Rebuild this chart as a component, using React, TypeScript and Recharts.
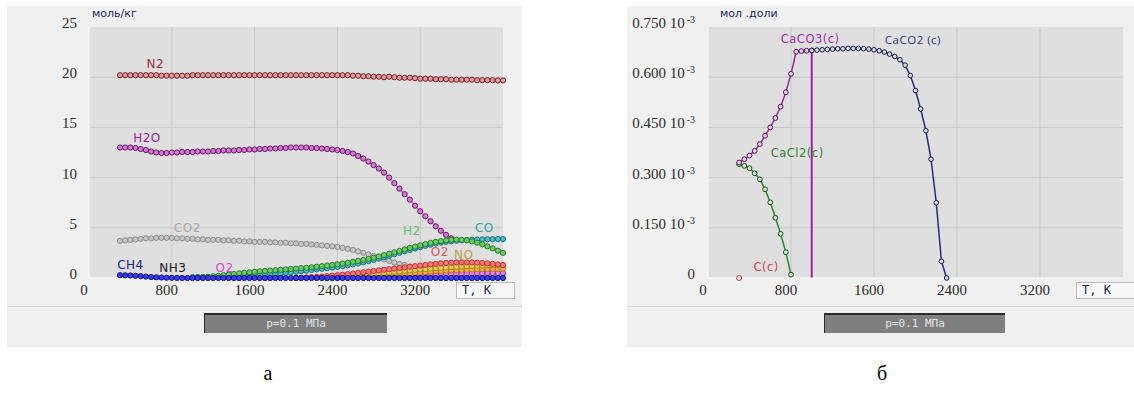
import React from 'react';
import {
  LineChart,
  Line,
  XAxis,
  YAxis,
  CartesianGrid,
  ReferenceDot,
  ReferenceLine
} from 'recharts';

// ---- chart (а): composition, моль/кг, T step 50 K ----
const T_LEFT = [
  300, 350, 400, 450, 500, 550, 600, 650, 700, 750,
  800, 850, 900, 950, 1000, 1050, 1100, 1150, 1200, 1250,
  1300, 1350, 1400, 1450, 1500, 1550, 1600, 1650, 1700, 1750,
  1800, 1850, 1900, 1950, 2000, 2050, 2100, 2150, 2200, 2250,
  2300, 2350, 2400, 2450, 2500, 2550, 2600, 2650, 2700, 2750,
  2800, 2850, 2900, 2950, 3000, 3050, 3100, 3150, 3200, 3250,
  3300, 3350, 3400, 3450, 3500, 3550, 3600, 3650, 3700, 3750,
  3800, 3850, 3900, 3950, 4000
];

const N2 = [
  20.2, 20.2, 20.2, 20.2, 20.2, 20.2, 20.2, 20.2, 20.15, 20.15,
  20.15, 20.15, 20.15, 20.15, 20.2, 20.2, 20.2, 20.2, 20.2, 20.2,
  20.2, 20.2, 20.2, 20.2, 20.2, 20.2, 20.2, 20.2, 20.2, 20.2,
  20.2, 20.2, 20.2, 20.2, 20.2, 20.2, 20.2, 20.2, 20.2, 20.2,
  20.2, 20.2, 20.2, 20.2, 20.2, 20.15, 20.15, 20.1, 20.1, 20.05,
  20.05, 20.0, 20.05, 20.0, 19.95, 19.95, 19.95, 19.9, 19.85, 19.85,
  19.85, 19.8, 19.8, 19.8, 19.75, 19.75, 19.75, 19.75, 19.75, 19.7,
  19.7, 19.7, 19.7, 19.68, 19.68
];

const H2O = [
  13.0, 13.0, 13.0, 12.95, 12.85, 12.75, 12.6, 12.5, 12.45, 12.45,
  12.5, 12.5, 12.55, 12.55, 12.55, 12.6, 12.6, 12.6, 12.65, 12.65,
  12.7, 12.7, 12.7, 12.75, 12.75, 12.8, 12.8, 12.85, 12.85, 12.9,
  12.9, 12.95, 12.95, 13.0, 13.0, 13.0, 13.0, 12.95, 12.95, 12.9,
  12.85, 12.8, 12.75, 12.65, 12.55, 12.4, 12.15, 11.9, 11.6, 11.25,
  10.9, 10.5, 10.0, 9.45, 8.9, 8.35, 7.8, 7.2, 6.65, 6.15,
  5.65, 5.15, 4.7, 4.3, 3.95, null, null, null, null, null,
  null, null, null, null, null
];

const CO2 = [
  3.7, 3.75, 3.8, 3.85, 3.9, 3.95, 3.95, 4.0, 4.0, 4.0,
  4.0, 3.95, 3.95, 3.9, 3.9, 3.85, 3.85, 3.8, 3.8, 3.8,
  3.75, 3.75, 3.7, 3.7, 3.65, 3.65, 3.6, 3.6, 3.6, 3.55,
  3.55, 3.5, 3.5, 3.45, 3.45, 3.4, 3.4, 3.35, 3.3, 3.25,
  3.2, 3.15, 3.1, 3.0, 2.9, 2.8, 2.65, 2.5, 2.35, 2.2,
  2.0, 1.85, 1.7, 1.55, 1.4, 1.3, 1.15, 1.05, 0.95, 0.88,
  0.8, 0.74, 0.68, 0.63, 0.58, 0.54, 0.5, 0.47, 0.44, 0.42,
  0.4, 0.38, 0.36, 0.34, 0.33
];

const H2 = [
  null, null, null, null, null, null, null, null, null, null,
  null, null, null, null, null, 0.06, 0.09, 0.12, 0.17, 0.22,
  0.28, 0.34, 0.4, 0.46, 0.52, 0.57, 0.62, 0.66, 0.7, 0.74,
  0.78, 0.82, 0.86, 0.9, 0.94, 0.98, 1.02, 1.07, 1.12, 1.18,
  1.24, 1.3, 1.37, 1.44, 1.52, 1.61, 1.7, 1.8, 1.9, 2.02,
  2.15, 2.28, 2.42, 2.56, 2.7, 2.85, 3.0, 3.13, 3.25, 3.38,
  3.5, 3.6, 3.68, 3.75, 3.8, 3.82, 3.8, 3.75, 3.65, 3.52,
  3.35, 3.15, 2.95, 2.72, 2.5
];

const CO = [
  null, null, null, null, null, null, null, null, null, null,
  null, null, null, null, 0.1, 0.1, 0.1, 0.11, 0.11, 0.12,
  0.12, 0.13, 0.14, 0.15, 0.17, 0.19, 0.22, 0.26, 0.3, 0.35,
  0.4, 0.45, 0.5, 0.56, 0.62, 0.68, 0.74, 0.8, 0.86, 0.92,
  0.98, 1.04, 1.1, 1.18, 1.26, 1.35, 1.45, 1.56, 1.68, 1.8,
  1.93, 2.07, 2.21, 2.36, 2.51, 2.66, 2.8, 2.94, 3.07, 3.2,
  3.32, 3.43, 3.52, 3.6, 3.66, 3.71, 3.75, 3.78, 3.81, 3.83,
  3.85, 3.86, 3.87, 3.88, 3.88
];

const O2 = [
  null, null, null, null, null, null, null, null, null, null,
  null, null, null, null, null, null, null, null, null, null,
  null, null, null, null, null, null, null, null, null, null,
  null, null, null, null, 0.02, 0.04, 0.06, 0.08, 0.11, 0.14,
  0.18, 0.23, 0.28, 0.33, 0.39, 0.45, 0.51, 0.57, 0.63, 0.7,
  0.76, 0.82, 0.88, 0.94, 1.0, 1.06, 1.12, 1.18, 1.24, 1.3,
  1.36, 1.41, 1.46, 1.5, 1.53, 1.55, 1.56, 1.56, 1.55, 1.53,
  1.5, 1.46, 1.41, 1.35, 1.28
];

const NO = [
  null, null, null, null, null, null, null, null, null, null,
  null, null, null, null, null, null, null, null, null, null,
  null, null, null, null, null, null, null, null, null, null,
  null, null, null, null, null, null, null, null, 0.02, 0.04,
  0.06, 0.09, 0.12, 0.15, 0.19, 0.23, 0.27, 0.31, 0.36, 0.41,
  0.46, 0.51, 0.56, 0.61, 0.66, 0.71, 0.76, 0.81, 0.86, 0.9,
  0.94, 0.98, 1.02, 1.06, 1.09, 1.12, 1.15, 1.17, 1.19, 1.21,
  1.23, 1.25, 1.26, 1.27, 1.28
];

const OH = [
  null, null, null, null, null, null, null, null, null, null,
  null, null, null, null, null, null, null, null, null, null,
  null, null, null, null, null, null, null, null, null, null,
  null, null, null, null, null, null, null, null, null, null,
  null, null, 0.02, 0.04, 0.06, 0.09, 0.12, 0.15, 0.18, 0.21,
  0.24, 0.27, 0.31, 0.35, 0.39, 0.43, 0.47, 0.51, 0.55, 0.59,
  0.63, 0.67, 0.7, 0.73, 0.76, 0.79, 0.81, 0.83, 0.85, 0.87,
  0.89, 0.9, 0.91, 0.92, 0.93
];

const O2_LOW = [
  null, null, null, null, null, null, null, null, null, null,
  null, null, null, null, null, null, null, null, null, null,
  null, null, null, null, null, null, null, null, null, null,
  null, null, null, null, null, null, null, null, null, null,
  null, null, null, null, 0.05, 0.07, 0.09, 0.11, 0.13, 0.15,
  0.17, 0.19, 0.21, 0.23, 0.25, 0.27, 0.29, 0.31, 0.33, 0.35,
  0.37, 0.39, 0.4, 0.42, 0.43, 0.44, 0.45, 0.46, 0.47, 0.48,
  0.49, 0.5, 0.5, 0.51, 0.51
];

const CH4 = [
  0.28, 0.27, 0.25, 0.22, 0.18, 0.14, 0.1, 0.07, 0.05, 0.03,
  0.02, 0.01, 0, 0, 0, 0, 0, 0, 0, 0,
  0, 0, 0, 0, 0, 0, 0, 0, 0, 0,
  0, 0, 0, 0, 0, 0, 0, 0, 0, 0,
  0, 0, 0, 0, 0, 0, 0, 0, 0, 0,
  0, 0, 0, 0, 0, 0, 0, 0, 0, 0,
  0, 0, 0, 0, 0, 0, 0, 0, 0, 0,
  0, 0, 0, 0, 0
];

// ---- chart (б): мол. доли ×10^-3 ----
const T_RIGHT = [
  300, 350, 400, 450, 500, 550, 600, 650, 700, 750,
  800, 850, 900, 950, 1000, 1050, 1100, 1150, 1200, 1250,
  1300, 1350, 1400, 1450, 1500, 1550, 1600, 1650, 1700, 1750,
  1800, 1850, 1900, 1950, 2000, 2050, 2100, 2150, 2200, 2250,
  2300
];

const CACO3 = [
  0.345, 0.355, 0.366, 0.38, 0.4, 0.425, 0.45, 0.478, 0.512, 0.555,
  0.61, 0.676, 0.678, 0.679, 0.68, null, null, null, null, null,
  null, null, null, null, null, null, null, null, null, null,
  null, null, null, null, null, null, null, null, null, null,
  null
];

const CAO = [
  null, null, null, null, null, null, null, null, null, null,
  null, null, null, null, 0.68, 0.681, 0.682, 0.683, 0.684, 0.685,
  0.685, 0.686, 0.686, 0.686, 0.685, 0.684, 0.682, 0.679, 0.675, 0.669,
  0.662, 0.652, 0.636, 0.605, 0.56, 0.505, 0.44, 0.355, 0.225, 0.05,
  0
];

const CACL2 = [
  0.34, 0.335, 0.328, 0.313, 0.295, 0.265, 0.226, 0.18, 0.132, 0.077,
  0.01, null, null, null, null, null, null, null, null, null,
  null, null, null, null, null, null, null, null, null, null,
  null, null, null, null, null, null, null, null, null, null,
  null
];

const C_SOLID = [
  0, null, null, null, null, null, null, null, null, null,
  null, null, null, null, null, null, null, null, null, null,
  null, null, null, null, null, null, null, null, null, null,
  null, null, null, null, null, null, null, null, null, null,
  null
];

const X_TICKS = [0, 800, 1600, 2400, 3200];
const LEFT_Y_TICKS = [0, 5, 10, 15, 20, 25];
const RIGHT_Y_TICKS = [0, 0.15, 0.3, 0.45, 0.6, 0.75];

const leftRows = T_LEFT.map((t, i) => ({
  t,
  n2: N2[i],
  h2o: H2O[i],
  co2: CO2[i],
  h2: H2[i],
  co: CO[i],
  o2: O2[i],
  no: NO[i],
  oh: OH[i],
  o2a: O2_LOW[i],
  ch4: CH4[i]
}));

const rightRows = T_RIGHT.map((t, i) => ({
  t,
  caco3: CACO3[i],
  cao: CAO[i],
  cacl2: CACL2[i],
  c: C_SOLID[i]
}));

// phase boundary: last CaCO3 point
const lastCaco3 = CACO3.reduce((acc: number, v, i) => (v != null ? i : acc), 0);
const TRANS_T = T_RIGHT[lastCaco3];
const TRANS_V = CACO3[lastCaco3] as number;

// draw order and colours
const LEFT_STYLE = [
  { key: 'co2', line: '#c6c6c6', dot: '#8a8a8a' },
  { key: 'n2', line: '#e49a9a', dot: '#72202e' },
  { key: 'h2o', line: '#d47ad4', dot: '#641864' },
  { key: 'o2a', line: '#e48ae4', dot: '#a238a2' },
  { key: 'oh', line: '#f2b04a', dot: '#c47418' },
  { key: 'no', line: '#e6cc5a', dot: '#a88a1c' },
  { key: 'o2', line: '#f27a7a', dot: '#c83030' },
  { key: 'co', line: '#4cc0c0', dot: '#1a7088' },
  { key: 'h2', line: '#6ccc6c', dot: '#2a7a2a' },
  { key: 'ch4', line: '#3a3aff', dot: '#12126e' }
];

const LABEL_FONT = '"DejaVu Sans", Verdana, sans-serif';
const SERIF = '"Liberation Serif", "DejaVu Serif", serif';

const LEFT_LABELS = [
  { text: 'N2', t: 640, v: 21.3, color: '#a0303a' },
  { text: 'H2O', t: 560, v: 14.0, color: '#a020a0' },
  { text: 'CO2', t: 950, v: 5.0, color: '#a8a8a8' },
  { text: 'CH4', t: 400, v: 1.3, color: '#202090' },
  { text: 'NH3', t: 810, v: 1.0, color: '#202020' },
  { text: 'O2', t: 1310, v: 1.0, color: '#e040d0' },
  { text: 'H2', t: 3120, v: 4.7, color: '#60c070' },
  { text: 'CO', t: 3820, v: 5.0, color: '#30a0a0' },
  { text: 'O2', t: 3390, v: 2.6, color: '#e05060' },
  { text: 'NO', t: 3620, v: 2.3, color: '#c0a040' }
];

const RIGHT_LABELS = [
  { text: 'CaCO3(c)', t: 985, v: 0.714, color: '#a030a0', font: LABEL_FONT, size: 11.5 },
  { text: 'CaCO2 (c)', t: 1975, v: 0.711, color: '#303080', font: '"Open Sans", "Noto Sans", sans-serif', size: 11.5 },
  { text: 'CaCl2(c)', t: 860, v: 0.373, color: '#308030', font: LABEL_FONT, size: 11.5 },
  { text: 'C(c)', t: 560, v: 0.033, color: '#d04050', font: LABEL_FONT, size: 11.5 }
];

const XTick = (props: any) => (
  <text x={props.x - 5} y={289} textAnchor="middle" fontFamily={SERIF} fontSize={15} fill="#2b2b2b">
    {props.payload.value}
  </text>
);

const LeftYTick = (props: any) => (
  <text x={70} y={props.y + 1} textAnchor="end" fontFamily={SERIF} fontSize={15} fill="#2b2b2b">
    {props.payload.value}
  </text>
);

const RightYTick = (props: any) => {
  const v = props.payload.value;
  return (
    <text x={68} y={props.y + 1} textAnchor="end" fontFamily={SERIF} fontSize={15} fill="#2b2b2b">
      {v === 0 ? '0' : `${v.toFixed(3)} 10`}
      {v !== 0 && (
        <tspan fontSize={10} dx={2} dy={-5}>-3</tspan>
      )}
    </text>
  );
};

const LeftChart = () => (
  <LineChart width={515} height={300} data={leftRows} margin={{ top: 21, right: 19, bottom: 0, left: 0 }}>
    <CartesianGrid
      fill="#dfdfdf"
      stroke="#c9c9c9"
      horizontalValues={[5, 10, 15, 20]}
      verticalValues={[800, 1600, 2400, 3200]}
    />
    <XAxis
      type="number"
      dataKey="t"
      domain={[0, 4000]}
      ticks={X_TICKS}
      interval={0}
      tick={(p: any) => <XTick {...p} />}
      tickLine={false}
      axisLine={{ stroke: '#fbfbfb' }}
      height={28}
    />
    <YAxis
      type="number"
      domain={[0, 25]}
      ticks={LEFT_Y_TICKS}
      interval={0}
      tick={(p: any) => <LeftYTick {...p} />}
      tickLine={false}
      axisLine={{ stroke: '#fbfbfb' }}
      width={82}
    />
    {LEFT_STYLE.map((s) => (
      <Line
        key={s.key}
        type="linear"
        dataKey={s.key}
        stroke={s.line}
        strokeWidth={1.5}
        dot={{ r: 2.6, stroke: s.dot, strokeWidth: 1, fill: s.line }}
        activeDot={false}
        isAnimationActive={false}
      />
    ))}
    {LEFT_LABELS.map((l, i) => (
      <ReferenceDot
        key={i}
        x={l.t}
        y={l.v}
        r={1}
        fill="none"
        stroke="none"
        label={{ value: l.text, position: 'center', fill: l.color, fontSize: 12, fontFamily: LABEL_FONT, letterSpacing: 0.5 }}
      />
    ))}
  </LineChart>
);

const RightChart = () => (
  <LineChart width={507} height={300} data={rightRows} margin={{ top: 21, right: 11, bottom: 0, left: 0 }}>
    <CartesianGrid
      fill="#dfdfdf"
      stroke="#c9c9c9"
      horizontalValues={[0.15, 0.3, 0.45, 0.6]}
      verticalValues={[800, 1600, 2400, 3200]}
    />
    <XAxis
      type="number"
      dataKey="t"
      domain={[0, 4000]}
      ticks={X_TICKS}
      interval={0}
      tick={(p: any) => <XTick {...p} />}
      tickLine={false}
      axisLine={{ stroke: '#fbfbfb' }}
      height={28}
    />
    <YAxis
      type="number"
      domain={[0, 0.75]}
      ticks={RIGHT_Y_TICKS}
      interval={0}
      tick={(p: any) => <RightYTick {...p} />}
      tickLine={false}
      axisLine={{ stroke: '#fbfbfb' }}
      width={81}
    />
    <ReferenceLine
      segment={[{ x: TRANS_T, y: 0 }, { x: TRANS_T, y: TRANS_V }]}
      stroke="#a020a0"
      strokeWidth={2}
    />
    <Line
      type="linear"
      dataKey="cacl2"
      stroke="#2a8a2a"
      strokeWidth={1.5}
      dot={{ r: 2.4, stroke: '#145214', strokeWidth: 1, fill: '#d8e8d8' }}
      activeDot={false}
      isAnimationActive={false}
    />
    <Line
      type="linear"
      dataKey="caco3"
      stroke="#9a2a9a"
      strokeWidth={1.5}
      dot={{ r: 2.4, stroke: '#5a105a', strokeWidth: 1, fill: '#e6d0e6' }}
      activeDot={false}
      isAnimationActive={false}
    />
    <Line
      type="linear"
      dataKey="cao"
      stroke="#2a2a80"
      strokeWidth={1.5}
      dot={{ r: 2.3, stroke: '#14144a', strokeWidth: 1, fill: '#dcdce8' }}
      activeDot={false}
      isAnimationActive={false}
    />
    <Line
      type="linear"
      dataKey="c"
      stroke="#c83050"
      dot={{ r: 2.5, stroke: '#c83050', strokeWidth: 1, fill: 'none' }}
      activeDot={false}
      isAnimationActive={false}
    />
    {RIGHT_LABELS.map((l, i) => (
      <ReferenceDot
        key={i}
        x={l.t}
        y={l.v}
        r={1}
        fill="none"
        stroke="none"
        label={{ value: l.text, position: 'center', fill: l.color, fontSize: l.size, fontFamily: l.font, letterSpacing: 0.5 }}
      />
    ))}
  </LineChart>
);

const panel = (left: number, width: number): React.CSSProperties => ({
  position: 'absolute',
  left,
  top: 6,
  width,
  height: 341,
  background: '#f0f0f0'
});

const PressureBox = ({ left, width }: { left: number; width: number }) => (
  <div
    style={{
      position: 'absolute',
      left,
      top: 313,
      width,
      height: 20,
      boxSizing: 'border-box',
      background: '#7f7f7f',
      borderTop: '2px solid #2c2c2c',
      borderLeft: '1px solid #2c2c2c',
      color: '#e4e4e4',
      fontFamily: '"DejaVu Sans Mono", monospace',
      fontSize: 11,
      lineHeight: '17px',
      textAlign: 'center'
    }}
  >
    p=0.1 МПа
  </div>
);

const TKBox = ({ left, width }: { left: number; width: number }) => (
  <div
    style={{
      position: 'absolute',
      left,
      top: 282,
      width,
      height: 17,
      boxSizing: 'border-box',
      background: '#f7f7f7',
      border: '1px solid #bcbcbc',
      color: '#25254a',
      fontFamily: '"DejaVu Sans Mono", monospace',
      fontSize: 12,
      lineHeight: '15px',
      paddingLeft: 5,
      whiteSpace: 'pre'
    }}
  >
    T, K
  </div>
);

const unitStyle = (left: number): React.CSSProperties => ({
  position: 'absolute',
  left,
  top: 7,
  fontFamily: LABEL_FONT,
  fontSize: 11,
  color: '#1e1e5e',
  whiteSpace: 'pre'
});

const captionStyle = (left: number): React.CSSProperties => ({
  position: 'absolute',
  left,
  top: 362,
  width: 20,
  textAlign: 'center',
  fontFamily: SERIF,
  fontSize: 20,
  color: '#000'
});

export default function App() {
  return (
    <div style={{ position: 'absolute', left: 0, top: 0, width: 1134, height: 396, background: '#fff', overflow: 'hidden' }}>
      <div style={panel(7, 515)} />
      <div style={panel(627, 507)} />
      <div style={{ position: 'absolute', left: 7, top: 306, width: 515, height: 1, background: '#d6d6d6' }} />
      <div style={{ position: 'absolute', left: 627, top: 306, width: 507, height: 1, background: '#d6d6d6' }} />

      <div style={{ position: 'absolute', left: 7, top: 6 }}>
        <LeftChart />
      </div>
      <div style={{ position: 'absolute', left: 627, top: 6 }}>
        <RightChart />
      </div>

      <div style={unitStyle(92)}>моль/кг</div>
      <div style={unitStyle(720)}>мол .доли</div>

      <TKBox left={456} width={59} />
      <TKBox left={1076} width={70} />

      <PressureBox left={204} width={183} />
      <PressureBox left={824} width={181} />

      <div style={captionStyle(258)}>а</div>
      <div style={captionStyle(872)}>б</div>
    </div>
  );
}
